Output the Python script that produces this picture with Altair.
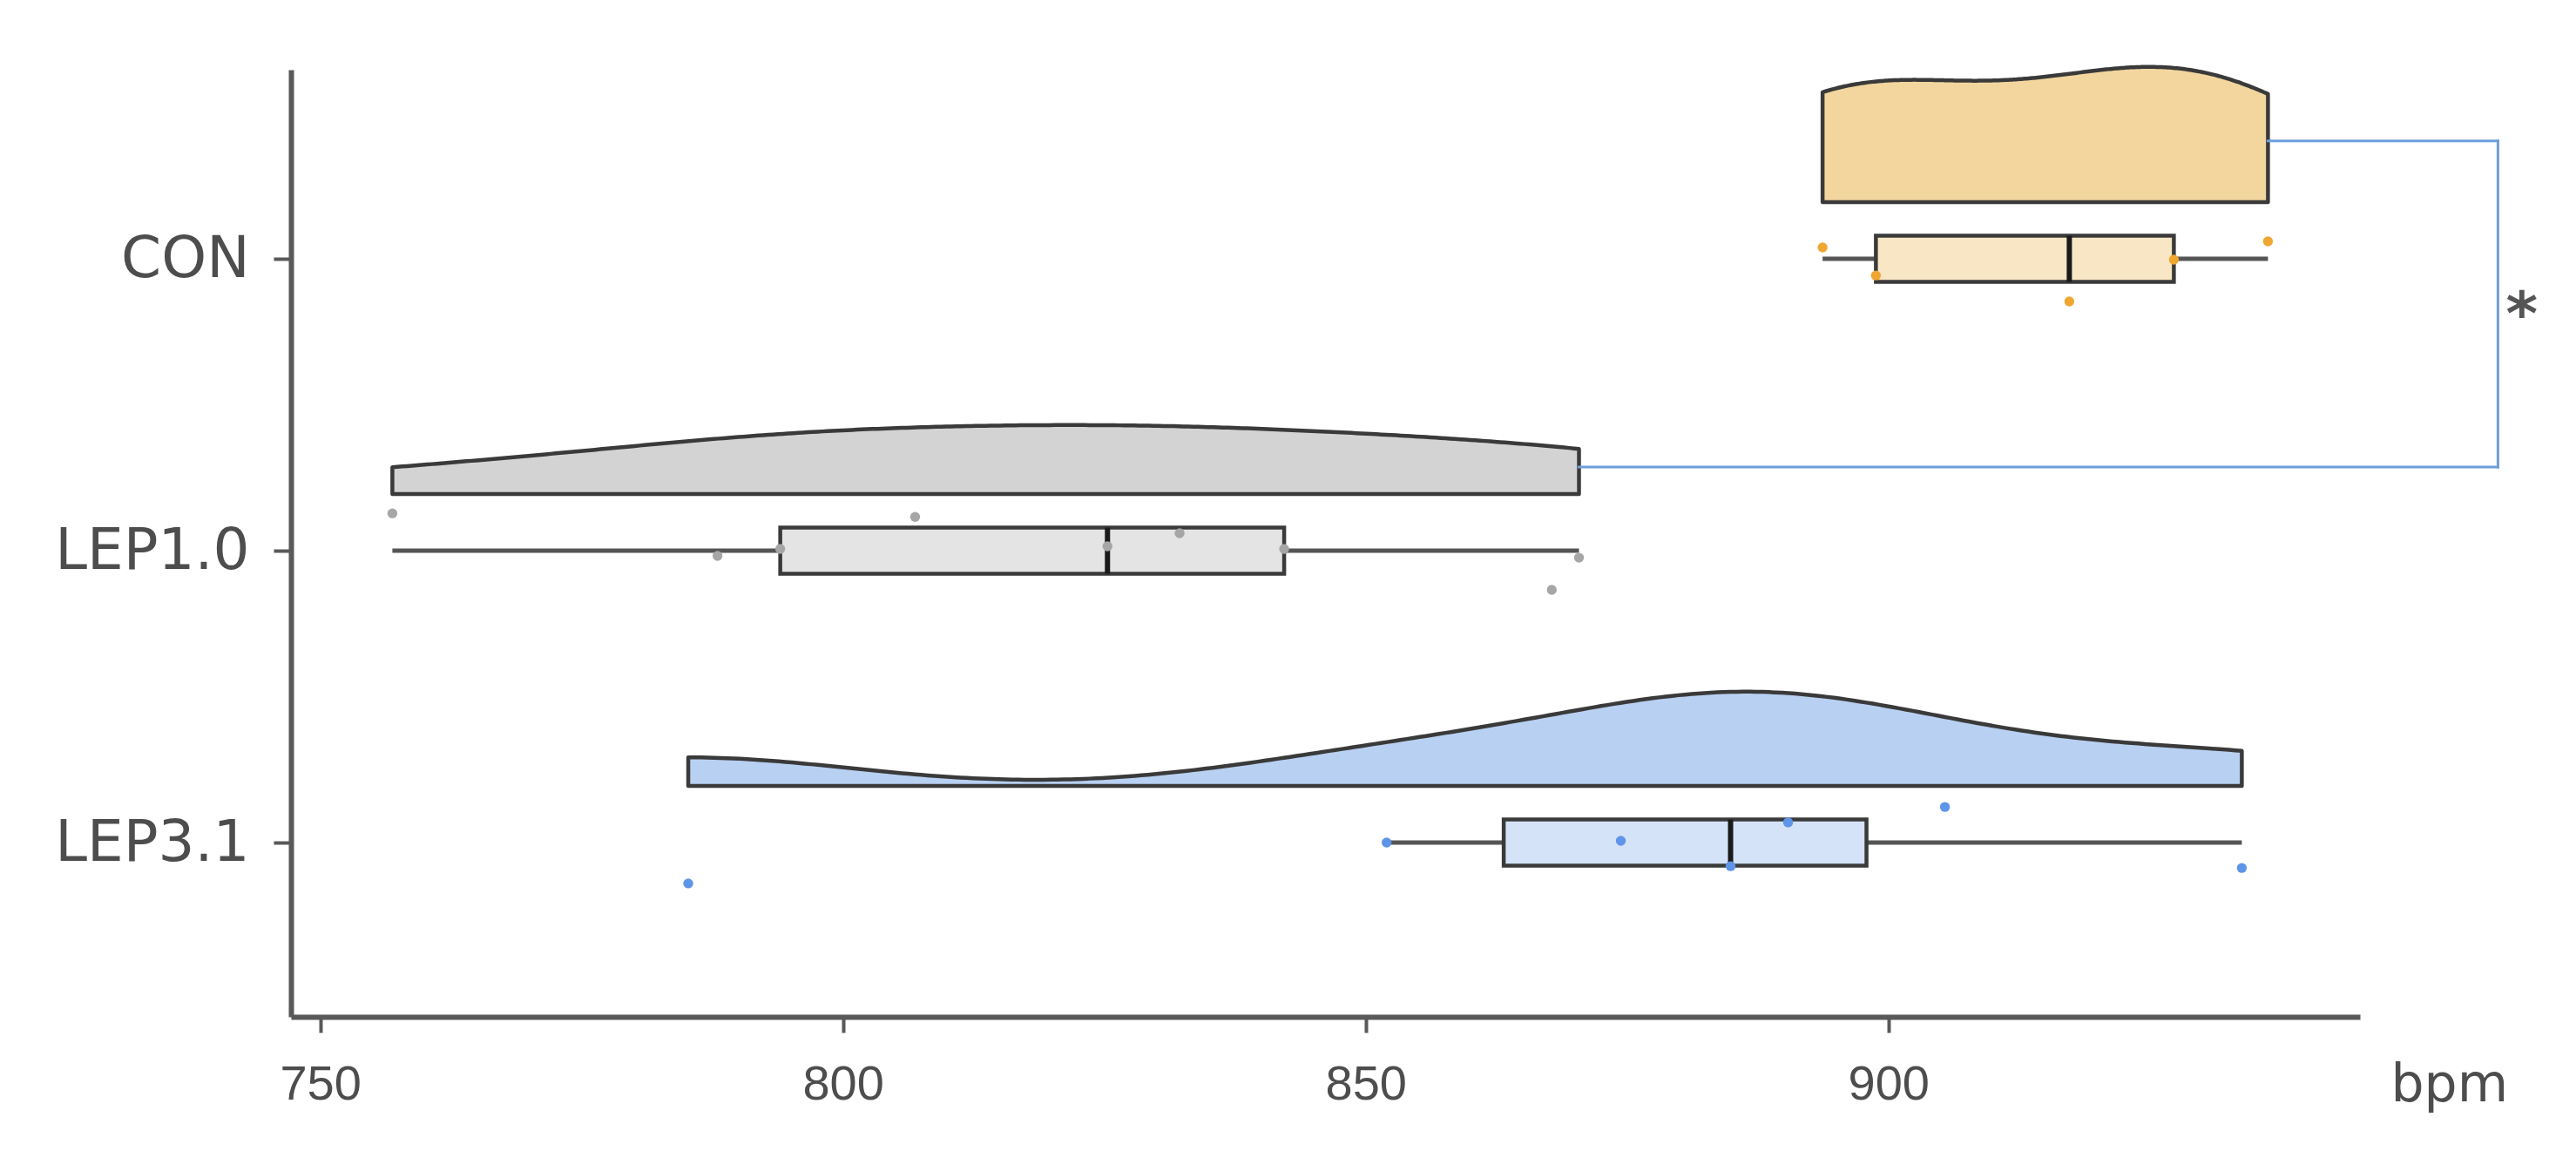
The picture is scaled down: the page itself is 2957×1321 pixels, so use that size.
import numpy as np
import pandas as pd
import altair as alt

# ---------------- data ----------------
groups = ["CON", "LEP1.0", "LEP3.1"]
con_bpm = [893.7, 898.8, 917.3, 927.3, 936.3]
lep10_bpm = [756.9, 788.0, 794.0, 806.9, 825.3, 832.2, 842.2, 867.8, 870.4]
lep31_bpm = [785.2, 852.0, 874.4, 884.9, 890.4, 905.4, 933.8]
# vertical jitter of the dots (in category steps, up = positive)
con_jit = [0.039, -0.057, -0.146, -0.003, 0.060]
lep10_jit = [0.128, -0.018, 0.006, 0.116, 0.015, 0.060, 0.006, -0.134, -0.024]
lep31_jit = [-0.140, 0.000, 0.006, -0.081, 0.069, 0.122, -0.087]
x_ticks = [750, 800, 850, 900]
x_title = "bpm"
sig_pair = ["CON", "LEP1.0"]
sig_label = "*"

# ---------------- styles ----------------
violin_fill = {"CON": "#f2d69e", "LEP1.0": "#d3d3d3", "LEP3.1": "#b8d0f2"}
box_fill = {"CON": "#f8e6c4", "LEP1.0": "#e4e4e4", "LEP3.1": "#d4e3f8"}
dot_color = {"CON": "#f0a732", "LEP1.0": "#a6a6a6", "LEP3.1": "#5f95e8"}
OUTLINE = "#3a3a3a"
AXIS_C = "#595959"
TEXT_C = "#4d4d4d"
BRACKET_C = "#6f9fdc"

VIOLIN_GAP = 0.194      # violin baseline above category centre
DENS_SCALE = 27.1       # density -> category units
BOX_HALF = 0.079        # half height of box
BR_TOP = 0.404          # bracket offsets above the category centres
BR_BOT = 0.287
BR_X = 958.3

W, H = 2375, 1087
x_scale = alt.Scale(domain=[747.2, 945.1], nice=False, zero=False)
y_scale = alt.Scale(domain=[0.403, 3.648], nice=False, zero=False)

pos = {g: len(groups) - i for i, g in enumerate(groups)}
vals = {"CON": con_bpm, "LEP1.0": lep10_bpm, "LEP3.1": lep31_bpm}
jits = {"CON": con_jit, "LEP1.0": lep10_jit, "LEP3.1": lep31_jit}

rows = []
for g in groups:
    for v, j in zip(vals[g], jits[g]):
        rows.append({"group": g, "bpm": v, "ypt": pos[g] + j, "dot": dot_color[g]})
pts = pd.DataFrame(rows)

stats = []
for g in groups:
    a = np.sort(np.array(vals[g]))
    q1, med, q3 = np.percentile(a, [25, 50, 75])
    iqr = q3 - q1
    lo = a[a >= q1 - 1.5 * iqr].min()
    hi = a[a <= q3 + 1.5 * iqr].max()
    stats.append({"group": g, "pos": pos[g], "q1": q1, "med": med, "q3": q3,
                  "wlo": lo, "whi": hi, "ylo": pos[g] - BOX_HALF, "yhi": pos[g] + BOX_HALF,
                  "fill": box_fill[g]})
stats = pd.DataFrame(stats)

label_expr = " : ".join(
    [f"datum.value == {pos[g]} ? '{g}'" for g in groups[:-1]] + [f"'{groups[-1]}'"]
)

x_axis = alt.Axis(values=x_ticks, title=x_title, grid=False, domainColor=AXIS_C, domainWidth=6,
                  tickColor=AXIS_C, tickWidth=4, tickSize=18, labelFont="Liberation Sans",
                  labelFontSize=56, labelColor=TEXT_C, labelPadding=32, titleFont="DejaVu Sans",
                  titleFontSize=60, titleFontWeight="normal", titleColor=TEXT_C,
                  titleX=2410, titleY=96, titleAlign="left", titleBaseline="alphabetic")
y_axis = alt.Axis(values=[pos[g] for g in groups], labelExpr=label_expr, title=None, grid=False,
                  domainColor=AXIS_C, domainWidth=6, tickColor=AXIS_C, tickWidth=4, tickSize=20,
                  labelFont="DejaVu Sans", labelFontSize=66, labelColor=TEXT_C, labelPadding=28,
                  labelBaseline="middle", labelLimit=0)


def X(f):
    return alt.X(f"{f}:Q", scale=x_scale, axis=x_axis)


def Y(f):
    return alt.Y(f"{f}:Q", scale=y_scale, axis=y_axis)


layers = []
for g in groups:
    a = np.array(vals[g])
    sd = a.std(ddof=1)
    iqr = np.subtract(*np.percentile(a, [75, 25]))
    bw = 0.9 * min(sd, iqr / 1.34) * len(a) ** (-0.2)
    base = pos[g] + VIOLIN_GAP
    v = (alt.Chart(pts)
         .transform_filter(alt.datum.group == g)
         .transform_density("bpm", as_=["bpm", "density"], bandwidth=float(bw),
                            extent=[float(a.min()), float(a.max())], steps=240)
         .transform_calculate(base=f"{base}", top=f"{base} + datum.density * {DENS_SCALE}")
         .mark_area(orient="vertical", fill=violin_fill[g], stroke=OUTLINE, strokeWidth=4.5,
                    strokeJoin="round")
         .encode(x=X("bpm"), y=Y("top"), y2=alt.Y2("base")))
    layers.append(v)

whisk = alt.Chart(stats).mark_rule(color="#555555", strokeWidth=5).encode(
    x=X("wlo"), x2=alt.X2("whi"), y=Y("pos"))
box = alt.Chart(stats).mark_rect(stroke=OUTLINE, strokeWidth=4.5).encode(
    x=X("q1"), x2=alt.X2("q3"), y=Y("ylo"), y2=alt.Y2("yhi"),
    fill=alt.Fill("fill:N", scale=None))
median = alt.Chart(stats).mark_rule(color="#1a1a1a", strokeWidth=6).encode(
    x=X("med"), y=Y("ylo"), y2=alt.Y2("yhi"))
dots = alt.Chart(pts).mark_circle(size=130, opacity=1).encode(
    x=X("bpm"), y=Y("ypt"), color=alt.Color("dot:N", scale=None))

ga, gb = sig_pair
ya = pos[ga] + BR_TOP
yb = pos[gb] + BR_BOT
br = pd.DataFrame([
    {"x": max(vals[ga]), "x2": BR_X, "y": ya, "y2": ya},
    {"x": BR_X, "x2": BR_X, "y": ya, "y2": yb},
    {"x": max(vals[gb]), "x2": BR_X, "y": yb, "y2": yb},
])
bracket = alt.Chart(br).mark_rule(color=BRACKET_C, strokeWidth=3, strokeCap="square").encode(
    x=X("x"), x2=alt.X2("x2"), y=Y("y"), y2=alt.Y2("y2"))
star = alt.Chart(pd.DataFrame([{"x": BR_X, "y": (ya + yb) / 2, "t": sig_label}])).mark_text(
    font="DejaVu Sans", fontSize=70, fontWeight="bold", color="#555555", align="left",
    baseline="middle", dx=9, dy=14).encode(x=X("x"), y=Y("y"), text="t:N")

chart = alt.layer(*layers, whisk, box, median, dots, bracket, star).properties(
    width=W, height=H,
    background="white",
    autosize=alt.AutoSizeParams(type="none"),
    padding={"left": 326, "top": 72, "right": 240, "bottom": 140},
).configure_view(stroke=None)

chart.save("out.html", embed_options={"renderer": "svg", "actions": False})
